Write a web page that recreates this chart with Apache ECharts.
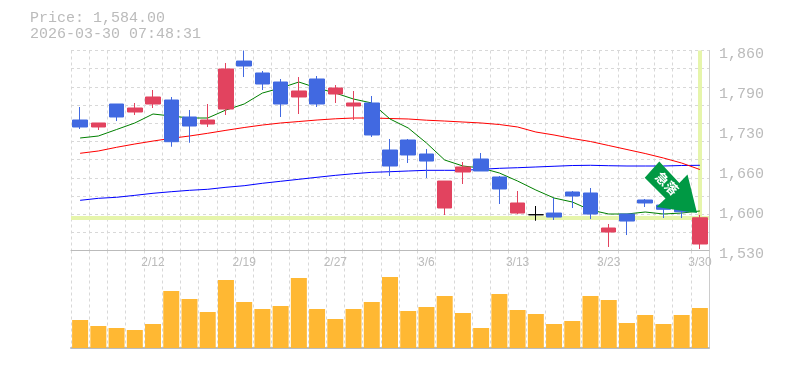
<!DOCTYPE html>
<html><head><meta charset="utf-8">
<style>html,body{margin:0;padding:0;background:#fff}#c{width:785px;height:370px}</style>
<script src="https://cdn.jsdelivr.net/npm/echarts@6/dist/echarts.min.js"></script>
</head><body><div id="c"></div>
<script>
const dates=['2/5','2/6','2/9','2/10','2/12','2/13','2/16','2/17','2/18','2/19','2/20','2/24','2/25','2/26','2/27','3/2','3/3','3/4','3/5','3/6','3/9','3/10','3/11','3/12','3/13','3/16','3/17','3/18','3/19','3/23','3/24','3/25','3/26','3/27','3/30'];
const opens=[1745.3,1733.8,1771.7,1758.5,1771.7,1778.3,1750.3,1738.7,1763.4,1842.6,1822.9,1808,1783.3,1813,1788.2,1768.4,1773.4,1695.8,1712.3,1689.2,1600.1,1659.5,1681,1651.3,1591.8,1589,1591.8,1626.5,1624.9,1560.5,1590.2,1613.3,1605,1600,1540.7];
const closes=[1733.8,1740.4,1750.3,1765.1,1783.3,1709.5,1735.4,1745.3,1829.5,1834.4,1804.7,1771.7,1793.2,1771.7,1798.1,1773.4,1720.6,1669.4,1687.6,1677.6,1644.6,1667.8,1661.2,1631.5,1608.4,1589,1585.2,1619.9,1590.2,1567.1,1578.6,1608.4,1598,1594,1584];
const lows=[1730.5,1728.8,1743.6,1753.6,1765.1,1701.2,1707.8,1733.8,1753.6,1816.2,1794.8,1750.3,1755.2,1766.8,1773.4,1745.3,1717.3,1652.9,1674.4,1649.6,1588.6,1639.7,1661.2,1606.7,1590.2,1579.1,1580.3,1600.1,1581.9,1535.8,1555.5,1601.8,1583.6,1583.6,1532.4];
const highs=[1766.8,1740.4,1771.7,1773.4,1794.8,1783.3,1761.8,1771.7,1839.4,1860,1826.2,1813,1816.2,1817.9,1803,1793.2,1784.9,1714,1714,1697.5,1644.6,1676,1690.9,1652.9,1628.2,1603.4,1616.6,1628.2,1633.1,1573.7,1590.2,1615,1612,1606,1588.6];
const maShort=[1715.6,1718.9,1729.6,1740.4,1755.2,1751.9,1748.6,1748.6,1761.8,1771.7,1789.8,1798.1,1808,1798.1,1789.8,1779.9,1773.4,1747,1732.1,1707.4,1679.3,1669.4,1666.1,1657.9,1644.6,1629.8,1616.6,1610,1596.8,1590.2,1590.2,1593.5,1590.2,1591.8,1595.2];
const maMid=[1690.4,1694.2,1700.3,1705.7,1710.6,1715.1,1718.9,1723.4,1728.3,1732.9,1737,1740.4,1742.8,1745.3,1747.3,1748.6,1748.6,1747.8,1747,1745,1743.6,1742,1740.4,1737.9,1733.8,1725.5,1720.6,1714.8,1709.8,1703.2,1696.6,1690,1682.6,1674.3,1663.6];
const maLong=[1612.8,1616.1,1617.8,1621,1624.4,1627,1629.3,1631,1634.3,1636.9,1640.9,1644.2,1647.5,1650.8,1654,1656.7,1659,1660,1661.2,1662.3,1662.3,1662.3,1664,1665.6,1666.6,1667.8,1669,1670.2,1670.6,1669.9,1669.4,1669.4,1669.4,1670.2,1670.6];
const volumes=[2800,2200,2000,1800,2400,5700,4900,3600,6800,4600,3900,4200,7000,3900,2900,3900,4600,7100,3700,4100,5200,3500,2000,5400,3800,3400,2400,2700,5200,4800,2500,3300,2400,3300,4000];
const priceTicks=[1530,1596,1662,1728,1794,1860];
const lastPrice=1584;
const titleLines=['Price: 1,584.00','2026-03-30 07:48:31'];
const arrowText='急落';

const MONO='"Liberation Mono"';
const GREY='#bbb';
const PALE='#e6f5ab';
const RED='#e2435f', BLUE='#4169e1';
const dash={color:'#d8d8d8',type:[3,3],width:1};
const last=dates[dates.length-1];
const candleData=dates.map((d,i)=>{
  const v=[opens[i],closes[i],lows[i],highs[i]];
  return opens[i]===closes[i]?{value:v,itemStyle:{color:'#000',color0:'#000',borderColor:'#000',borderColor0:'#000'}}:v;
});
const ma=(data,color,extra)=>Object.assign({type:'line',data,symbol:'none',smooth:false,silent:true,z:1,
  lineStyle:{color,width:1},xAxisIndex:0,yAxisIndex:0,animation:false},extra||{});
const option={
  animation:false,
  backgroundColor:'#fff',
  title:{text:titleLines.join('\n'),left:30,top:10,padding:0,textStyle:{fontFamily:MONO,fontSize:15,fontWeight:'normal',color:GREY,lineHeight:16}},
  grid:[
    {left:71,top:50.5,width:638,height:200,containLabel:false},
    {left:71,top:250.5,width:638,height:97.5,containLabel:false}
  ],
  xAxis:[
    {type:'category',gridIndex:0,data:dates,boundaryGap:true,
      axisLine:{show:true,lineStyle:{color:GREY,width:1}},axisTick:{show:false},
      splitLine:{show:true,interval:0,lineStyle:dash},
      axisLabel:{interval:(i)=>i%5===4,color:GREY,fontFamily:'"Liberation Sans"',fontSize:12,margin:6,hideOverlap:false}},
    {type:'category',gridIndex:1,data:dates,boundaryGap:true,offset:1,
      axisLine:{show:true,lineStyle:{color:GREY,width:2}},axisTick:{show:false},axisLabel:{show:false},
      splitLine:{show:true,interval:0,lineStyle:dash}}
  ],
  yAxis:[
    {type:'value',gridIndex:0,position:'right',min:1530,max:1860,interval:30,scale:true,
      axisLine:{show:true,lineStyle:{color:'#ccc',width:1}},axisTick:{show:false},
      splitLine:{show:true,lineStyle:dash},
      axisLabel:{customValues:priceTicks,showMinLabel:true,showMaxLabel:true,hideOverlap:false,color:GREY,fontFamily:MONO,fontSize:15,margin:10,
        verticalAlign:'top',lineHeight:7,
        formatter:(v)=>(Math.round(v/10)*10).toLocaleString('en-US')}},
    {type:'value',gridIndex:1,position:'right',min:0,max:9750,
      axisLine:{show:true,lineStyle:{color:'#ccc',width:1}},axisTick:{show:false},splitLine:{show:false},axisLabel:{show:false}}
  ],
  series:[
    ma(maLong,'#0000ff',{markLine:{silent:true,symbol:'none',label:{show:false},animation:false,z:0,
      lineStyle:{color:PALE,width:4,type:'solid'},
      data:[{yAxis:lastPrice},[{coord:[last,1860]},{coord:[last,lastPrice]}]]}}),
    ma(maMid,'#ff0000'),
    ma(maShort,'#008000'),
    {type:'candlestick',xAxisIndex:0,yAxisIndex:0,data:candleData,barWidth:15,z:3,silent:true,
      itemStyle:{color:RED,color0:BLUE,borderColor:RED,borderColor0:BLUE,borderWidth:1}},
    {type:'bar',xAxisIndex:1,yAxisIndex:1,data:volumes,barWidth:16,silent:true,itemStyle:{color:'#ffb833'}}
  ],
  graphic:[
    {type:'polygon',z:100,shape:{points:[[659.3,161.5],[644.7,177.7],[665.5,198.5],[656.5,207],[697,213],[687.5,174.5],[679.3,183]]},style:{fill:'#009944'}},
    {type:'text',z:101,x:667,y:183.5,rotation:-Math.PI/4,style:{text:arrowText,fill:'#fff',fontFamily:'"Noto Sans CJK JP"',fontWeight:'bold',fontSize:13,align:'center',verticalAlign:'middle'}}
  ]
};
echarts.init(document.getElementById('c'),null,{renderer:'canvas'}).setOption(option);
</script></body></html>
